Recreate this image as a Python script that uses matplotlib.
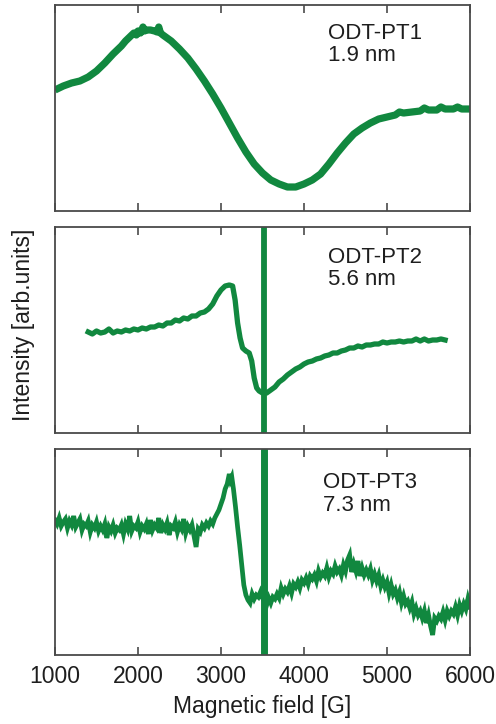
import matplotlib
matplotlib.use("Agg")
import matplotlib.pyplot as plt

plt.rcParams['font.family'] = ['Liberation Sans', 'DejaVu Sans']

# ---------------- data ----------------
field_1 = [1000, 1100, 1200, 1300, 1400, 1500, 1600, 1700, 1800, 1850, 1900, 1950, 1980, 2000, 2030,
           2060, 2080, 2100, 2150, 2200, 2230, 2250, 2270, 2300, 2400, 2500, 2600, 2700, 2800, 2900,
           3000, 3100, 3200, 3300, 3400, 3500, 3600, 3700, 3800, 3900, 4000, 4100, 4200, 4300, 4400,
           4500, 4600, 4700, 4800, 4900, 5000, 5100, 5150, 5200, 5300, 5400, 5450, 5500, 5600, 5650,
           5700, 5800, 5850, 5900, 6000]
signal_1 = [121, 125, 128, 130, 134, 140, 148, 157, 165, 170, 174, 178, 176, 180, 178,
            184, 180, 181, 181, 180, 179, 184, 178, 176, 170, 162, 153, 142, 130, 117,
            103, 88, 73, 59, 47, 38, 31, 27, 24, 24, 27, 31, 37, 47, 58,
            68, 77, 83, 88, 92, 94, 96, 99, 98, 99, 100, 103, 101, 101, 104,
            102, 102, 104, 102, 102]

field_2 = [1400, 1450, 1500, 1550, 1600, 1650, 1700, 1750, 1800, 1850, 1900, 1950, 2000, 2050,
           2100, 2150, 2200, 2250, 2300, 2350, 2400, 2450, 2500, 2550, 2600, 2650, 2700, 2750,
           2800, 2850, 2900, 2950, 3000, 3050, 3100, 3140, 3170, 3200, 3230, 3260, 3300, 3340,
           3370, 3400, 3430, 3460, 3500, 3550, 3600, 3650, 3700, 3750, 3800, 3850, 3900, 3950,
           4000, 4050, 4100, 4150, 4200, 4250, 4300, 4350, 4400, 4450, 4500, 4550, 4600, 4650,
           4700, 4750, 4800, 4850, 4900, 4950, 5000, 5050, 5100, 5150, 5200, 5250, 5300, 5350,
           5400, 5450, 5500, 5550, 5600, 5650, 5700]
signal_2 = [101, 99, 102, 100, 101, 104, 100, 102, 101, 103, 102, 104, 103, 105,
            104, 106, 106, 108, 107, 110, 110, 113, 112, 115, 114, 117, 117, 120,
            121, 124, 129, 137, 143, 147, 148, 147, 133, 110, 95, 85, 82, 80,
            72, 55, 45, 42, 40, 40, 43, 46, 51, 54, 58, 61, 64, 66,
            69, 71, 72, 74, 75, 77, 78, 80, 80, 82, 83, 85, 85, 87,
            86, 88, 88, 89, 89, 91, 90, 91, 91, 92, 91, 92, 92, 94,
            92, 94, 92, 93, 93, 94, 93]

# panel 3: flat noisy part, line-shaped feature, broad hump
field_3a = [1000, 1025, 1050, 1075, 1100, 1125, 1150, 1175, 1200, 1225,
            1250, 1275, 1300, 1325, 1350, 1375, 1400, 1425, 1450, 1475,
            1500, 1525, 1550, 1575, 1600, 1625, 1650, 1675, 1700, 1725,
            1750, 1775, 1800, 1825, 1850, 1875, 1900, 1925, 1950, 1975,
            2000, 2025, 2050, 2075, 2100, 2125, 2150, 2175, 2200, 2225,
            2250, 2275, 2300, 2325, 2350, 2375, 2400, 2425, 2450, 2475,
            2500, 2525, 2550, 2575, 2600, 2625, 2650, 2675, 2700, 2725,
            2750, 2775, 2800, 2825, 2850, 2875, 2900, 2925, 2950]
signal_3a = [135, 131, 137, 129, 133, 136, 127, 134, 130, 139,
             128, 132, 136, 125, 131, 129, 134, 123, 130, 127,
             133, 124, 129, 125, 131, 117, 128, 124, 130, 122,
             127, 125, 130, 121, 131, 126, 139, 124, 129, 127,
             133, 123, 129, 126, 131, 121, 135, 125, 130, 127,
             137, 122, 130, 126, 132, 120, 129, 127, 133, 123,
             130, 126, 136, 122, 129, 125, 130, 119, 108, 126,
             123, 130, 127, 132, 129, 134, 131, 137, 141]
field_3b = [2975, 3000, 3025, 3050, 3075, 3100, 3115, 3130, 3150, 3175, 3200, 3225,
            3250, 3275, 3300, 3325, 3350, 3375, 3400, 3425, 3450, 3475, 3500]
signal_3b = [145, 151, 157, 166, 171, 181, 175, 178, 166, 148, 128, 110,
             90, 70, 60, 55, 52, 61, 56, 60, 58, 63, 57]
field_3c = [3550, 3575, 3600, 3625, 3650, 3675, 3700, 3725, 3750, 3775,
            3800, 3825, 3850, 3875, 3900, 3925, 3950, 3975, 4000, 4025,
            4050, 4075, 4100, 4125, 4150, 4175, 4200, 4225, 4250, 4275,
            4300, 4325, 4350, 4375, 4400, 4425, 4450, 4475, 4500, 4525,
            4550, 4575, 4600, 4625, 4650, 4675, 4700, 4725, 4750, 4775,
            4800, 4825, 4850, 4875, 4900, 4925, 4950, 4975, 5000, 5025,
            5050, 5075, 5100, 5125, 5150, 5175, 5200, 5225, 5250, 5275,
            5300, 5325, 5350, 5375, 5400, 5425, 5450, 5475, 5500, 5525,
            5550, 5575, 5600, 5625, 5650, 5675, 5700, 5725, 5750, 5775,
            5800, 5825, 5850, 5875, 5900, 5925, 5950, 5975, 6000]
signal_3c = [50, 57, 52, 58, 56, 61, 57, 67, 61, 66,
             63, 69, 62, 71, 68, 73, 67, 75, 72, 77,
             71, 79, 76, 80, 74, 84, 78, 82, 79, 87,
             78, 84, 81, 89, 83, 86, 80, 90, 84, 95,
             100, 83, 91, 84, 94, 79, 87, 80, 85, 80,
             86, 75, 81, 74, 80, 69, 75, 68, 73, 62,
             70, 61, 65, 57, 63, 52, 59, 51, 54, 47,
             53, 41, 47, 40, 44, 37, 44, 32, 40, 29,
             20, 37, 34, 39, 36, 43, 35, 44, 39, 44,
             41, 48, 40, 50, 44, 51, 46, 56, 48]

marker_field = 3515  # sharp reference line in panels 2 and 3

x_ticks = [1000, 2000, 3000, 4000, 5000, 6000]
labels = [("ODT-PT1", "1.9 nm"), ("ODT-PT2", "5.6 nm"), ("ODT-PT3", "7.3 nm")]

# ---------------- figure ----------------
W, H = 496, 724
fig = plt.figure(figsize=(W / 100, H / 100), dpi=100)
green = '#11883f'
spine_col = '#4a4a4a'
text_col = '#1e1e1e'

def px_axes(left, top, right, bottom):
    return fig.add_axes([left / W, 1 - bottom / H, (right - left) / W, (bottom - top) / H])

ax1 = px_axes(55, 5, 470, 211)
ax2 = px_axes(55, 227, 470, 433)
ax3 = px_axes(55, 449, 470, 655)
axes = [ax1, ax2, ax3]

field_3 = field_3a + field_3b + field_3c
signal_3 = signal_3a + signal_3b + signal_3c

ax1.plot(field_1, signal_1, color=green, lw=5.2, solid_joinstyle='round', solid_capstyle='butt')
ax2.plot(field_2, signal_2, color=green, lw=3.8, solid_joinstyle='round')
ax2.axvline(marker_field, color=green, lw=4.2)
ax3.plot(field_3, signal_3, color=green, lw=3.4, solid_joinstyle='miter')
ax3.axvline(marker_field, color=green, lw=5.0)

text_pos = [(0.658, 0.915), (0.658, 0.905), (0.646, 0.89)]
for ax, (name, size), (tx, ty) in zip(axes, labels, text_pos):
    ax.set_xlim(1000, 6000)
    ax.set_ylim(0, 206)
    ax.set_yticks([])
    ax.set_xticks(x_ticks)
    ax.tick_params(axis='x', direction='in', top=True, bottom=True, length=6,
                   width=1.2, color=spine_col, labelsize=16.5, pad=7, labelcolor=text_col)
    for s in ax.spines.values():
        s.set_color(spine_col)
        s.set_linewidth(1.3)
    ax.text(tx, ty, name + "\n" + size, transform=ax.transAxes, ha='left', va='top',
            fontsize=16, color=text_col, linespacing=1.12)

ax1.tick_params(axis='x', labelbottom=False)
ax2.tick_params(axis='x', labelbottom=False)
ax3.set_xlabel("Magnetic field [G]", fontsize=16.5, color=text_col, labelpad=5)

fig.text(24 / W, 1 - 325 / H, "Intensity [arb.units]", rotation=90, ha='center', va='center',
         fontsize=16.5, color=text_col)

fig.savefig("out.png", dpi=100)
